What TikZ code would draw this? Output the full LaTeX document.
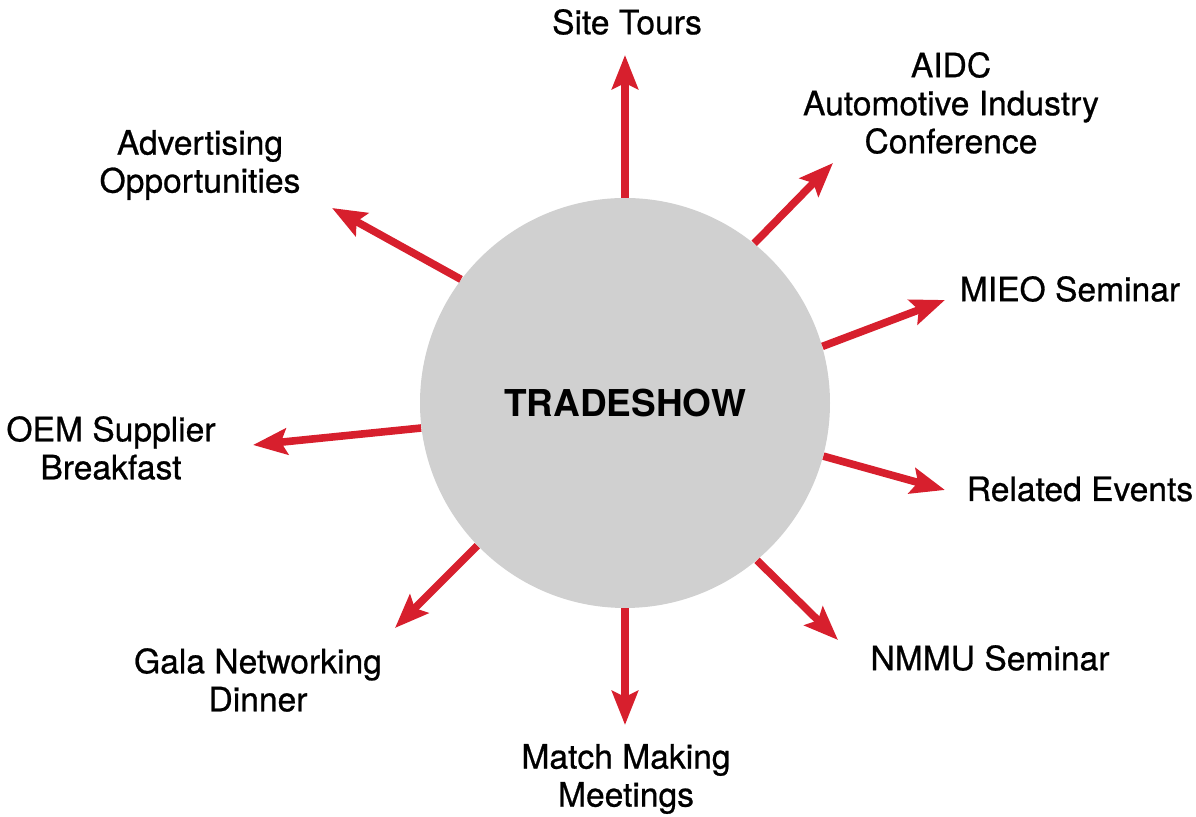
\documentclass[tikz,border=0pt]{standalone}
\usepackage{fontspec}
\setmainfont{TeX Gyre Heros}
\newfontfamily\eventfont[FakeBold=0.7]{TeX Gyre Heros}
\usetikzlibrary{arrows.meta}

\definecolor{arrowred}{HTML}{D71F2D}
\definecolor{hubgrey}{HTML}{D0D0D0}

\tikzset{
  hub/.style={circle,fill=hubgrey,minimum size=205pt,inner sep=0pt,
    font=\fontsize{18.5}{22}\selectfont\bfseries},
  spoke/.style={draw=arrowred,line width=3.8pt,
    -{Stealth[length=17pt,width=13pt,inset=3pt]}},
  event/.style={align=center,inner sep=0pt,
    font=\eventfont\fontsize{16.8}{19}\selectfont}
}

\begin{document}
\begin{tikzpicture}[x=0.5pt,y=-0.5pt]
  \useasboundingbox (0,0) rectangle (1196,817);
  \node[hub] (ts) at (625,403) {TRADESHOW};

  % arrow ends
  \coordinate (e1) at (625,55);
  \coordinate (e2) at (833,163);
  \coordinate (e3) at (945,300);
  \coordinate (e4) at (945,490);
  \coordinate (e5) at (838,640);
  \coordinate (e6) at (625,725);
  \coordinate (e7) at (395,628);
  \coordinate (e8) at (253,445);
  \coordinate (e9) at (332,208);

  \node[event] (tours)   at (627,22)  {Site Tours};
  \node[event] (aidc)    at (951,103) {AIDC\\Automotive Industry\\Conference};
  \node[event] (mieo)    at (1070,289) {MIEO Seminar};
  \node[event] (related) at (1080,489) {Related Events};
  \node[event] (nmmu)    at (990,658) {NMMU Seminar};
  \node[event] (match)   at (626,779) {Match Making\\Meetings};
  \node[event] (gala)    at (258,680) {Gala Networking\\Dinner};
  \node[event] (oem)     at (111,448) {OEM Supplier\\Breakfast};
  \node[event] (advert)  at (200,165) {Advertising\\Opportunities};

  \draw[spoke] (ts.90)    -- (e1);
  \draw[spoke] (ts.51.6)  -- (e2);
  \draw[spoke] (ts.16)    -- (e3);
  \draw[spoke] (ts.-15.8) -- (e4);
  \draw[spoke] (ts.-50)   -- (e5);
  \draw[spoke] (ts.270)   -- (e6);
  \draw[spoke] (ts.224)   -- (e7);
  \draw[spoke] (ts.187.5) -- (e8);
  \draw[spoke] (ts.143.3) -- (e9);
\end{tikzpicture}
\end{document}
